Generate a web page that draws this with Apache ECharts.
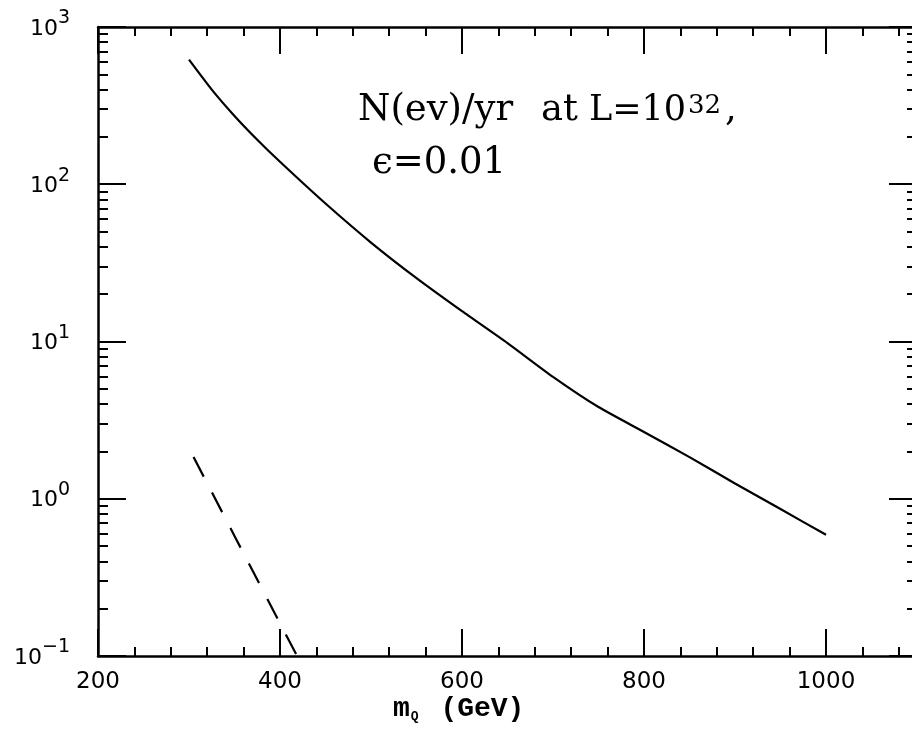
<!DOCTYPE html>
<html>
<head>
<meta charset="utf-8">
<script src="https://cdn.jsdelivr.net/npm/echarts@6/dist/echarts.min.js"></script>
<style>
  html, body { margin: 0; padding: 0; background: #fff; }
  #chart { width: 912px; height: 736px; }
</style>
</head>
<body>
<div id="chart"></div>
<script>
// heavy quark mass (GeV) and events per year
const massGeV = [300, 325, 350, 375, 400, 450, 500, 550, 600, 650, 700, 750, 800, 850, 900, 950, 1000];
const eventsSolid = [620, 400, 272, 192, 139, 75.4, 42.6, 25.3, 15.6, 9.77, 5.96, 3.83, 2.66, 1.84, 1.25, 0.86, 0.59];
const massDashed = [305, 350, 400, 420];
const eventsDashed = [1.84, 0.58, 0.161, 0.097];

const xMajor = [200, 400, 600, 800, 1000];
const yDecades = [0.1, 1, 10, 100, 1000];
const yExponents = ['\u22121', '0', '1', '2', '3'];

// minor ticks
let xMinor = [];
for (let v = 240; v < 1100; v += 40) {
  if (v % 200 !== 0) xMinor.push(v);
}
let yMinor = [];
yDecades.slice(0, 4).forEach(d => {
  for (let k = 2; k <= 9; k++) yMinor.push(+(d * k).toPrecision(3));
});

const black = '#000';
const lineW = 2.5;

function xAxisBase(pos, ticks, len, showLine, showLabel) {
  return {
    type: 'value', position: pos, min: 200, max: 1100,
    axisLine: { show: showLine, lineStyle: { color: black, width: lineW } },
    axisTick: { show: true, inside: true, length: len, customValues: ticks, lineStyle: { color: black, width: 2 } },
    axisLabel: {
      show: showLabel, customValues: xMajor, margin: 15, color: black,
      fontSize: 23, fontFamily: 'DejaVu Sans',
      formatter: (v) => String(v)
    },
    splitLine: { show: false }
  };
}
function yAxisBase(pos, ticks, len, showLine, showLabel) {
  return {
    type: 'log', logBase: 10, position: pos, min: 0.1, max: 1000,
    axisLine: { show: showLine, lineStyle: { color: black, width: lineW } },
    axisTick: { show: true, inside: true, length: len, customValues: ticks, lineStyle: { color: black, width: 2 } },
    axisLabel: {
      show: showLabel, customValues: yDecades, margin: 28, color: black,
      formatter: (v) => {
        const i = yDecades.findIndex(d => Math.abs(Math.log10(d) - Math.log10(v)) < 1e-6);
        return '{b|10}{sup|' + yExponents[i] + '}';
      },
      rich: {
        b: { fontSize: 22, fontFamily: 'DejaVu Sans', color: black, padding: [9, 0, 5, 0] },
        sup: { fontSize: 19, fontFamily: 'DejaVu Sans', color: black, verticalAlign: 'top' }
      }
    },
    splitLine: { show: false }
  };
}

let chart = echarts.init(document.getElementById('chart'));
let option = {
  backgroundColor: '#fff',
  animation: false,
  grid: { left: 98, top: 27, width: 819, height: 629, outerBoundsMode: 'none', containLabel: false },
  xAxis: [
    xAxisBase('bottom', xMajor, 27, true, true),
    xAxisBase('bottom', xMinor, 9, false, false),
    xAxisBase('top', xMajor, 27, true, false),
    xAxisBase('top', xMinor, 9, false, false)
  ],
  yAxis: [
    yAxisBase('left', yDecades, 28, true, true),
    yAxisBase('left', yMinor, 10, false, false),
    yAxisBase('right', yDecades, 28, true, false),
    yAxisBase('right', yMinor, 10, false, false)
  ],
  graphic: [
    // annotation, laid out piece by piece to match the wide spacing
    { type: 'text', left: 358, top: 92, style: { text: 'N(ev)/yr', font: '37px "DejaVu Serif"', fill: black } },
    { type: 'text', left: 541, top: 92, style: { text: 'at', font: '37px "DejaVu Serif"', fill: black } },
    { type: 'text', left: 589, top: 93, style: { text: 'L=10', font: '35px "DejaVu Serif"', fill: black } },
    { type: 'text', left: 688, top: 93, style: { text: '32', font: '26px "DejaVu Serif"', fill: black } },
    { type: 'text', left: 725, top: 92, style: { text: ',', font: '37px "DejaVu Serif"', fill: black } },
    { type: 'text', left: 372, top: 145, style: { text: '\u03f5=0.01', font: '37px "DejaVu Serif"', fill: black } },
    // x axis title
    {
      type: 'text', left: 393, top: 695,
      style: {
        text: 'm{sub|Q} (GeV)',
        font: '600 28px "Liberation Mono"', fill: black,
        rich: {
          sub: { font: 'bold 13px "Liberation Mono"', fill: black, verticalAlign: 'bottom', padding: [15, 5, 0, 1] }
        }
      }
    }
  ],
  series: [
    {
      type: 'line', xAxisIndex: 0, yAxisIndex: 0,
      data: massGeV.map((m, i) => [m, eventsSolid[i]]),
      showSymbol: false, smooth: 0.2, clip: true,
      lineStyle: { color: black, width: 2.2 }
    },
    {
      type: 'line', xAxisIndex: 0, yAxisIndex: 0,
      data: massDashed.map((m, i) => [m, eventsDashed[i]]),
      showSymbol: false, smooth: false, clip: true,
      lineStyle: { color: black, width: 2.2, type: [22, 18] }
    }
  ]
};
chart.setOption(option);
</script>
</body>
</html>
